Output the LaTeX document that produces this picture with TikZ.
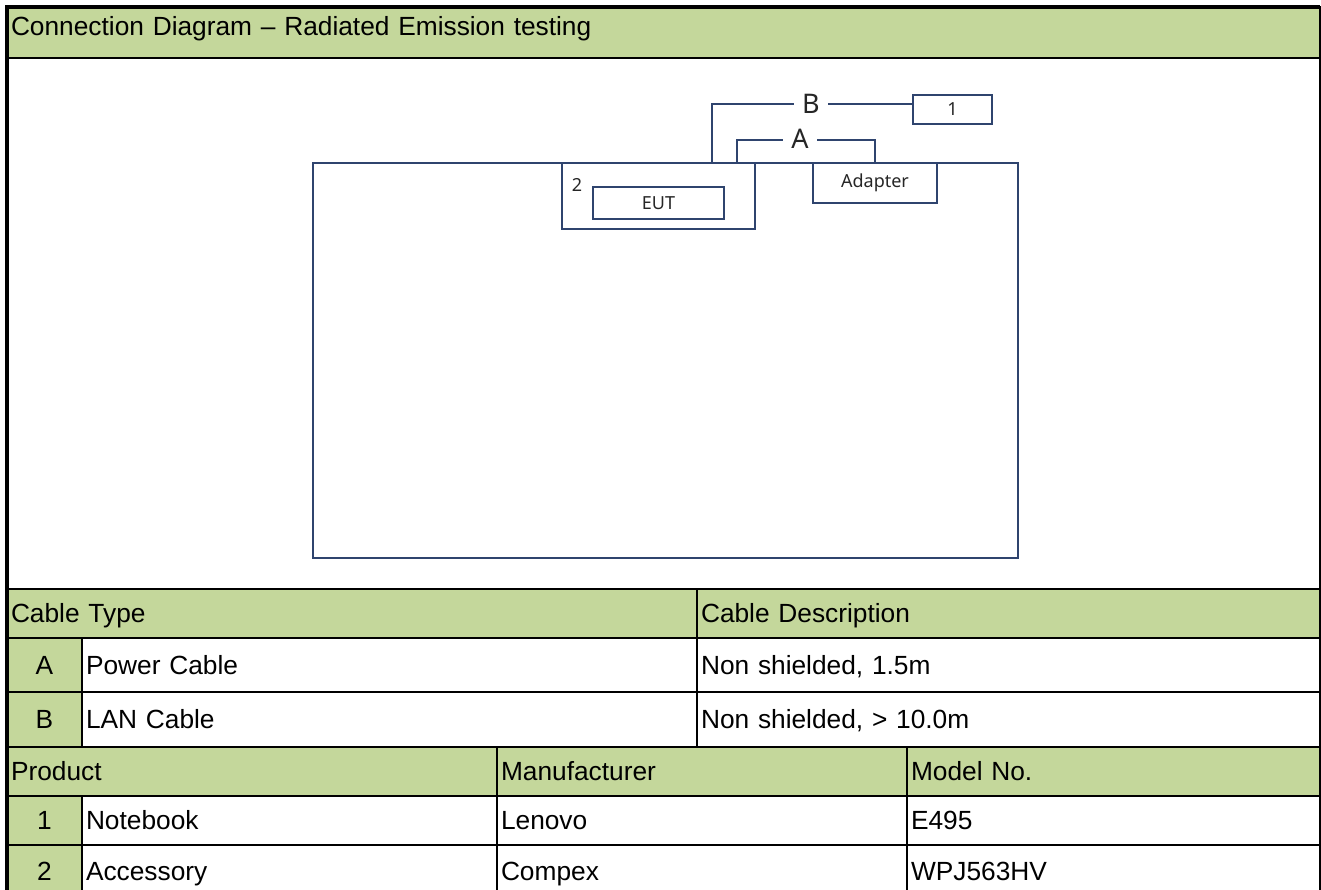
\documentclass[tikz,border=0pt]{standalone}
\usepackage{fontspec}
\setmainfont{Liberation Sans}
\newfontfamily\diagfont{Noto Sans}
\usetikzlibrary{positioning, calc}

\definecolor{hdrgreen}{RGB}{196,215,155}
\definecolor{wirenavy}{RGB}{47,68,110}

\begin{document}
\begin{tikzpicture}[
    x=1pt, y=-1pt,
    every node/.style={inner sep=0pt, outer sep=0pt},
    cell/.style={draw=black, line width=2.5pt, anchor=north west, align=left,
        font=\fontsize{26.3}{31}\selectfont, text height=18.8pt, text depth=0pt, inner xsep=4pt},
    hdr/.style={cell, fill=hdrgreen},
    idx/.style={cell, fill=hdrgreen, align=center},
    frame/.style={draw=black, line width=4pt},
    box/.style={draw=wirenavy, line width=2pt, anchor=north west, fill=white},
    boxtxt/.style={font=\diagfont\fontsize{18}{21}\selectfont, text=black!85},
    wire/.style={draw=wirenavy, line width=2pt},
    wirelbl/.style={fill=white, inner xsep=8pt, inner ysep=1pt,
        font=\diagfont\fontsize{27}{30}\selectfont, text=black!85},
]

\useasboundingbox (0,0) rectangle (1321,890);
\fill[white] (0,0) rectangle (1321,890);
\clip (0,0) rectangle (1321,890);

% --- Title and drawing area ---
\node (title) [hdr, text width=1305pt, minimum height=51pt, text depth=12pt] at (7,7) {Connection Diagram -- Radiated Emission testing};
\node (area) [cell, minimum width=1313pt, minimum height=531pt] at (7,58) {};

% --- Cables ---
\node (cabtype) [hdr, text width=682pt, minimum height=49pt] at (7,589) {Cable Type};
\node (cabdesc) [hdr, text width=615pt, minimum height=49pt] at (697,589) {Cable Description};

\node (idxA) [idx, text width=67pt, minimum height=54pt] at (7,638) {A};
\node (typeA) [cell, text width=607pt, minimum height=54pt] at (82,638) {Power Cable};
\node (descA) [cell, text width=615pt, minimum height=54pt] at (697,638) {Non shielded, 1.5m};

\node (idxB) [idx, text width=67pt, minimum height=55pt] at (7,692) {B};
\node (typeB) [cell, text width=607pt, minimum height=55pt] at (82,692) {LAN Cable};
\node (descB) [cell, text width=615pt, minimum height=55pt] at (697,692) {Non shielded, > 10.0m};

% --- Products ---
\node (product) [hdr, text width=482pt, minimum height=49pt] at (7,747) {Product};
\node (manuf) [hdr, text width=402pt, minimum height=49pt] at (497,747) {Manufacturer};
\node (model) [hdr, text width=405pt, minimum height=49pt] at (907,747) {Model No.};

\node (idx1) [idx, text width=67pt, minimum height=49pt] at (7,796) {1};
\node (prod1) [cell, text width=407pt, minimum height=49pt] at (82,796) {Notebook};
\node (manuf1) [cell, text width=402pt, minimum height=49pt] at (497,796) {Lenovo};
\node (model1) [cell, text width=405pt, minimum height=49pt] at (907,796) {E495};

\node (idx2) [idx, text width=67pt, minimum height=52pt] at (7,845) {2};
\node (prod2) [cell, text width=407pt, minimum height=52pt] at (82,845) {Accessory};
\node (manuf2) [cell, text width=402pt, minimum height=52pt] at (497,845) {Compex};
\node (model2) [cell, text width=405pt, minimum height=52pt] at (907,845) {WPJ563HV};

% --- Outer frame ---
\draw [frame] (idx2.south west) -- (title.north west) -- (title.north east);

% --- Set-up drawing ---
\node (bench) [box, minimum width=705pt, minimum height=395pt] at (313,163) {};
\node (holder) [box, minimum width=193pt, minimum height=66pt] at (562,163) {};
\node (eut) [box, boxtxt, minimum width=131pt, minimum height=32pt] at (593,187) {EUT};
\node (no2) [boxtxt] at ([xshift=15pt, yshift=-22pt]holder.north west) {2};
\node (adapter) [box, boxtxt, minimum width=124pt, minimum height=40pt] at (813,163) {Adapter};
\node (pc) [box, boxtxt, minimum width=79pt, minimum height=29pt] at (913,95) {1};

% --- Cables ---
\draw [wire] ([xshift=150pt]holder.north west) |- ([yshift=5pt]pc.west);
\draw [wire] ([xshift=175pt]holder.north west) -- ++(0,-23) -| ([xshift=62pt]adapter.north west);
\node (labB) [wirelbl] at (811,104) {B};
\node (labA) [wirelbl] at (800,139) {A};

\end{tikzpicture}
\end{document}
